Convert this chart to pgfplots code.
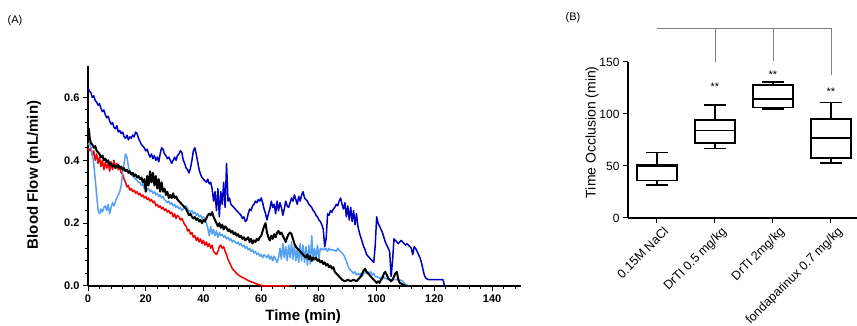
\documentclass[border=0pt]{standalone}
\usepackage{fontspec}
\setmainfont{Liberation Sans}
\usepackage{pgfplots}
\pgfplotsset{compat=1.18}
\usepgfplotslibrary{statistics}
\definecolor{dblue}{RGB}{0,0,190}
\definecolor{lblue}{RGB}{85,160,240}
\definecolor{pred}{RGB}{245,0,0}
\begin{document}
\begin{tikzpicture}
\useasboundingbox (0pt,0pt) rectangle (857pt,326pt);
\node[font=\fontsize{11}{13}\selectfont] at (15pt,305.5pt) {(A)};
\node[font=\fontsize{11}{13}\selectfont] at (573pt,308pt) {(B)};
\begin{axis}[
  at={(88pt,40pt)}, anchor=south west, scale only axis,
  width=433pt, height=220pt,
  xmin=0, xmax=150, ymin=0, ymax=0.7,
  axis lines=left, axis line style={-, line width=1.3pt},
  xtick distance=20, ytick={0,0.2,0.4,0.6},
  minor x tick num=4, minor y tick num=4,
  tick align=outside, major tick length=5pt, minor tick length=3pt,
  every tick/.style={black, line width=1pt},
  tick label style={font=\fontsize{11}{13}\selectfont\bfseries},
  /pgf/number format/assume math mode=true,
  yticklabel style={/pgf/number format/.cd, fixed, fixed zerofill, precision=1},
  xlabel={Time (min)}, ylabel={Blood Flow (mL/min)},
  every axis x label/.style={at={(axis description cs:0.497,-0.14)}, anchor=center, font=\fontsize{15}{17}\selectfont\bfseries},
  every axis y label/.style={at={(axis description cs:-0.125,0.505)}, rotate=90, anchor=center, font=\fontsize{15}{17}\selectfont\bfseries},
  clip=false,
  line join=round,
]
\addplot[pred, line width=1.5pt] coordinates {
(0,0.44)(0.5,0.43)(1,0.44)(1.5,0.415)(2,0.43)(2.5,0.40)(3,0.42)(3.5,0.39)(4,0.41)(4.5,0.38)(5,0.40)(5.5,0.37)(6,0.395)(6.5,0.375)(7,0.39)(7.5,0.365)(8,0.395)(8.5,0.37)(9,0.40)(9.5,0.375)(10,0.39)(10.5,0.37)(11,0.38)(11.5,0.36)(12,0.355)(12.5,0.34)(13,0.33)(13.5,0.315)(14,0.32)(14.5,0.305)(15,0.31)(15.5,0.30)(16,0.305)(16.5,0.295)(17,0.30)(17.5,0.29)(18,0.295)(18.5,0.285)(19,0.29)(19.5,0.28)(20,0.285)(20.5,0.275)(21,0.28)(21.5,0.27)(22,0.275)(22.5,0.265)(23,0.27)(23.5,0.255)(24,0.26)(24.5,0.25)(25,0.255)(25.5,0.245)(26,0.25)(26.5,0.24)(27,0.245)(27.5,0.235)(28,0.24)(28.5,0.23)(29,0.235)(29.5,0.22)(30,0.23)(30.5,0.215)(31,0.225)(31.5,0.22)(32,0.21)(32.5,0.215)(33,0.205)(33.5,0.195)(34,0.19)(34.5,0.175)(35,0.18)(35.5,0.165)(36,0.17)(36.5,0.155)(37,0.16)(37.5,0.145)(38,0.155)(38.5,0.14)(39,0.15)(39.5,0.135)(40,0.145)(40.5,0.13)(41,0.14)(41.5,0.125)(42,0.135)(42.5,0.12)(43,0.13)(43.5,0.11)(44,0.105)(44.5,0.10)(45,0.11)(45.5,0.125)(46,0.13)(46.5,0.12)(47,0.125)(47.5,0.11)(48,0.10)(48.5,0.085)(49,0.075)(49.5,0.065)(50,0.055)(51,0.045)(52,0.035)(53,0.03)(54,0.025)(55,0.02)(56,0.015)(57,0.012)(58,0.008)(59,0.005)(60,0.002)(61,0)(70,0)
};
\addplot[lblue, line width=1.5pt] coordinates {
(0,0.45)(0.5,0.455)(1,0.44)(1.5,0.42)(2,0.39)(2.5,0.34)(3,0.29)(3.5,0.24)(4,0.23)(4.5,0.245)(5,0.235)(5.5,0.25)(6,0.255)(6.5,0.24)(7,0.26)(7.5,0.23)(8,0.25)(8.5,0.265)(9,0.255)(9.5,0.27)(10,0.28)(10.5,0.29)(11,0.30)(11.5,0.32)(12,0.36)(12.5,0.39)(13,0.42)(13.5,0.41)(14,0.38)(14.5,0.36)(15,0.355)(15.5,0.35)(16,0.345)(16.5,0.34)(17,0.335)(17.5,0.33)(18,0.33)(18.5,0.32)(19,0.325)(19.5,0.31)(20,0.32)(20.5,0.305)(21,0.31)(21.5,0.30)(22,0.305)(22.5,0.295)(23,0.30)(23.5,0.29)(24,0.295)(24.5,0.285)(25,0.29)(25.5,0.28)(26,0.285)(26.5,0.275)(27,0.27)(27.5,0.265)(28,0.27)(28.5,0.26)(29,0.265)(29.5,0.255)(30,0.26)(30.5,0.25)(31,0.255)(31.5,0.245)(32,0.25)(32.5,0.24)(33,0.245)(33.5,0.25)(34,0.255)(34.5,0.245)(35,0.24)(35.5,0.235)(36,0.24)(36.5,0.23)(37,0.235)(37.5,0.225)(38,0.23)(38.5,0.22)(39,0.225)(39.5,0.215)(40,0.22)(40.5,0.21)(41,0.20)(41.5,0.185)(42,0.16)(42.5,0.19)(43,0.165)(43.5,0.18)(44,0.16)(44.5,0.175)(45,0.155)(45.5,0.17)(46,0.16)(46.5,0.165)(47,0.155)(47.5,0.16)(48,0.15)(48.5,0.155)(49,0.145)(49.5,0.15)(50,0.14)(50.5,0.145)(51,0.14)(51.5,0.135)(52,0.14)(52.5,0.13)(53,0.135)(53.5,0.125)(54,0.13)(54.5,0.12)(55,0.125)(55.5,0.115)(56,0.12)(56.5,0.11)(57,0.115)(57.5,0.105)(58,0.11)(58.5,0.10)(59,0.105)(59.5,0.095)(60,0.10)(60.5,0.09)(61,0.10)(61.5,0.095)(62,0.09)(62.5,0.10)(63,0.085)(63.5,0.095)(64,0.08)(64.5,0.095)(65,0.085)(65.5,0.075)(66,0.09)(66.5,0.12)(67,0.085)(67.5,0.135)(68,0.09)(68.5,0.125)(69,0.08)(69.5,0.13)(70,0.09)(70.5,0.14)(71,0.085)(71.5,0.13)(72,0.08)(72.5,0.12)(73,0.075)(73.5,0.135)(74,0.08)(74.5,0.13)(75,0.075)(75.5,0.125)(76,0.065)(76.5,0.13)(77,0.07)(77.5,0.16)(78,0.08)(78.5,0.12)(79,0.085)(79.5,0.13)(80,0.09)(80.5,0.12)(81,0.115)(81.5,0.12)(82,0.115)(82.5,0.12)(83,0.11)(83.5,0.12)(84,0.115)(85,0.115)(86,0.11)(86.5,0.12)(87,0.115)(87.5,0.11)(88,0.105)(88.5,0.10)(89,0.09)(89.5,0.08)(90,0.065)(90.5,0.055)(91,0.05)(91.5,0.045)(92,0.04)(92.5,0.045)(93,0.035)(93.5,0.04)(94,0.035)(94.5,0.04)(95,0.03)(95.5,0.04)(96,0.045)(96.5,0.04)(97,0.045)(97.5,0.04)(98,0.045)(98.5,0.035)(99,0.04)(99.5,0.03)(100,0.03)(101,0.025)(102,0.03)(103,0.025)(104,0.02)(105,0.02)(106,0.02)(107,0.02)(108,0.02)(109,0.015)(110,0.005)(111,0)
};
\addplot[black, line width=2pt] coordinates {
(0,0.48)(0.3,0.50)(0.6,0.47)(1,0.455)(1.5,0.45)(2,0.44)(2.5,0.445)(3,0.43)(3.5,0.425)(4,0.42)(4.5,0.41)(5,0.415)(5.5,0.40)(6,0.405)(6.5,0.395)(7,0.40)(7.5,0.385)(8,0.39)(8.5,0.38)(9,0.385)(9.5,0.375)(10,0.38)(10.5,0.385)(11,0.375)(11.5,0.38)(12,0.37)(12.5,0.375)(13,0.365)(13.5,0.37)(14,0.36)(14.5,0.365)(15,0.355)(15.5,0.36)(16,0.35)(16.5,0.355)(17,0.345)(17.5,0.35)(18,0.34)(18.5,0.345)(19,0.33)(19.5,0.34)(20,0.30)(20.5,0.35)(21,0.32)(21.5,0.365)(22,0.33)(22.5,0.36)(23,0.32)(23.5,0.35)(24,0.31)(24.5,0.34)(25,0.30)(25.5,0.33)(26,0.30)(26.5,0.31)(27,0.29)(27.5,0.30)(28,0.28)(28.5,0.29)(29,0.28)(29.5,0.295)(30,0.28)(30.5,0.285)(31,0.275)(31.5,0.27)(32,0.265)(32.5,0.26)(33,0.255)(33.5,0.25)(34,0.245)(34.5,0.235)(35,0.225)(35.5,0.23)(36,0.22)(36.5,0.215)(37,0.22)(37.5,0.21)(38,0.215)(38.5,0.205)(39,0.21)(39.5,0.20)(40,0.21)(40.5,0.205)(41,0.215)(41.5,0.225)(42,0.23)(42.5,0.225)(43,0.235)(43.5,0.22)(44,0.21)(44.5,0.20)(45,0.19)(45.5,0.20)(46,0.185)(46.5,0.195)(47,0.18)(47.5,0.19)(48,0.185)(48.5,0.175)(49,0.18)(49.5,0.17)(50,0.175)(50.5,0.165)(51,0.17)(51.5,0.16)(52,0.165)(52.5,0.155)(53,0.16)(53.5,0.15)(54,0.155)(54.5,0.145)(55,0.15)(55.5,0.155)(56,0.14)(56.5,0.15)(57,0.135)(57.5,0.145)(58,0.14)(58.5,0.15)(59,0.145)(59.5,0.155)(60,0.16)(60.5,0.175)(61,0.19)(61.5,0.20)(62,0.17)(62.5,0.155)(63,0.145)(63.5,0.16)(64,0.15)(64.5,0.165)(65,0.155)(65.5,0.17)(66,0.175)(66.5,0.165)(67,0.17)(67.5,0.16)(68,0.15)(68.5,0.14)(69,0.155)(69.5,0.165)(70,0.17)(70.5,0.165)(71,0.15)(71.5,0.135)(72,0.125)(72.5,0.12)(73,0.115)(73.5,0.11)(74,0.105)(74.5,0.10)(75,0.095)(75.5,0.09)(76,0.10)(76.5,0.085)(77,0.095)(77.5,0.08)(78,0.09)(78.5,0.085)(79,0.09)(79.5,0.08)(80,0.085)(80.5,0.075)(81,0.08)(81.5,0.07)(82,0.075)(82.5,0.065)(83,0.07)(83.5,0.06)(84,0.065)(84.5,0.055)(85,0.06)(85.5,0.045)(86,0.04)(86.5,0.035)(87,0.03)(87.5,0.025)(88,0.02)(89,0.015)(90,0.02)(91,0.015)(92,0.02)(93,0.015)(94,0.025)(94.5,0.03)(95,0.04)(95.5,0.05)(96,0.055)(96.5,0.045)(97,0.04)(97.5,0.035)(98,0.03)(98.5,0.025)(99,0.02)(99.5,0.015)(100,0.01)(100.5,0.015)(101,0.01)(101.5,0.02)(102,0.025)(102.5,0.04)(103,0.045)(103.5,0.035)(104,0.025)(104.5,0.02)(105,0.015)(105.5,0.02)(106,0.03)(106.5,0.04)(107,0.045)(107.5,0.02)(108,0.01)(109,0.005)(110,0)(111,0)
};
\addplot[dblue, line width=1.5pt] coordinates {
(0,0.63)(0.5,0.62)(1,0.615)(1.5,0.60)(2,0.605)(2.5,0.59)(3,0.585)(3.5,0.575)(4,0.58)(4.5,0.565)(5,0.555)(5.5,0.56)(6,0.545)(6.5,0.535)(7,0.54)(7.5,0.525)(8,0.515)(8.5,0.52)(9,0.505)(9.5,0.50)(10,0.51)(10.5,0.49)(11,0.495)(11.5,0.485)(12,0.49)(12.5,0.475)(13,0.47)(13.5,0.48)(14,0.465)(14.5,0.475)(15,0.47)(15.5,0.48)(16,0.475)(16.5,0.49)(17,0.485)(17.5,0.47)(18,0.46)(18.5,0.45)(19,0.445)(19.5,0.44)(20,0.43)(20.5,0.435)(21,0.42)(21.5,0.41)(22,0.42)(22.5,0.405)(23,0.415)(23.5,0.40)(24,0.41)(24.5,0.395)(25,0.42)(25.5,0.44)(26,0.435)(26.5,0.42)(27,0.415)(27.5,0.405)(28,0.41)(28.5,0.40)(29,0.39)(29.5,0.40)(30,0.41)(30.5,0.40)(31,0.415)(31.5,0.42)(32,0.43)(32.5,0.425)(33,0.40)(33.5,0.39)(34,0.375)(34.5,0.37)(35,0.36)(35.5,0.375)(36,0.40)(36.5,0.43)(37,0.44)(37.5,0.42)(38,0.395)(38.5,0.37)(39,0.355)(39.5,0.345)(40,0.34)(40.5,0.335)(41,0.33)(41.5,0.34)(42,0.325)(42.5,0.33)(43,0.31)(43.5,0.27)(44,0.30)(44.5,0.24)(45,0.31)(45.5,0.22)(46,0.30)(46.5,0.26)(47,0.33)(47.5,0.25)(48,0.39)(48.5,0.27)(49,0.28)(49.5,0.26)(50,0.255)(50.5,0.25)(51,0.245)(51.5,0.24)(52,0.235)(52.5,0.23)(53,0.225)(53.5,0.215)(54,0.22)(54.5,0.205)(55,0.21)(55.5,0.23)(56,0.245)(56.5,0.24)(57,0.255)(57.5,0.26)(58,0.27)(58.5,0.265)(59,0.275)(59.5,0.27)(60,0.28)(60.5,0.265)(61,0.245)(61.5,0.23)(62,0.21)(62.5,0.23)(63,0.245)(63.5,0.27)(64,0.25)(64.5,0.26)(65,0.23)(65.5,0.27)(66,0.24)(66.5,0.265)(67,0.25)(67.5,0.225)(68,0.245)(68.5,0.27)(69,0.255)(69.5,0.25)(70,0.265)(70.5,0.28)(71,0.27)(71.5,0.29)(72,0.275)(72.5,0.26)(73,0.285)(73.5,0.27)(74,0.29)(74.5,0.30)(75,0.28)(75.5,0.275)(76,0.27)(76.5,0.26)(77,0.255)(77.5,0.25)(78,0.24)(78.5,0.235)(79,0.225)(79.5,0.22)(80,0.21)(80.5,0.205)(81,0.195)(81.5,0.18)(82,0.125)(82.5,0.15)(83,0.23)(83.5,0.225)(84,0.24)(84.5,0.235)(85,0.245)(85.5,0.25)(86,0.26)(86.5,0.255)(87,0.27)(87.5,0.28)(88,0.26)(88.5,0.245)(89,0.265)(89.5,0.22)(90,0.255)(90.5,0.21)(91,0.25)(91.5,0.205)(92,0.24)(92.5,0.195)(93,0.23)(93.5,0.19)(94,0.17)(94.5,0.155)(95,0.14)(95.5,0.125)(96,0.115)(96.5,0.10)(97,0.095)(97.5,0.09)(98,0.085)(98.5,0.08)(99,0.075)(99.5,0.13)(100,0.22)(100.5,0.20)(101,0.19)(101.5,0.18)(102,0.17)(102.5,0.155)(103,0.14)(103.5,0.13)(104,0.12)(104.5,0.11)(105,0.03)(105.5,0.08)(106,0.15)(106.5,0.145)(107,0.14)(107.5,0.135)(108,0.14)(108.5,0.145)(109,0.14)(109.5,0.135)(110,0.13)(110.5,0.135)(111,0.13)(111.5,0.125)(112,0.12)(112.5,0.10)(113,0.125)(113.5,0.12)(114,0.11)(114.5,0.10)(115,0.09)(115.5,0.075)(116,0.055)(116.5,0.035)(117,0.025)(118,0.02)(119,0.02)(120,0.02)(121,0.02)(122,0.02)(123,0.02)(123.5,0)
};
\end{axis}
\begin{axis}[
  at={(628pt,108pt)}, anchor=south west, scale only axis,
  width=229pt, height=156pt,
  xmin=-0.5, xmax=3.45, ymin=0, ymax=150,
  axis lines=left, axis line style={-, line width=1.3pt},
  xtick={0,1,2,3}, ytick={0,50,100,150},
  xticklabels={0.15M NaCl, DrTI 0.5 mg/kg, DrTI 2mg/kg, fondaparinux 0.7 mg/kg},
  tick align=outside, major tick length=5pt,
  every tick/.style={black, line width=1pt},
  tick label style={font=\fontsize{12}{14}\selectfont},
  xticklabel style={rotate=45, anchor=north east, font=\fontsize{12.5}{14}\selectfont, inner sep=1pt, yshift=-5pt, xshift=3pt},
  /pgf/number format/assume math mode=true,
  ylabel={Time Occlusion (min)},
  every axis y label/.style={at={(axis description cs:-0.157,0.55)}, rotate=90, anchor=center, font=\fontsize{14}{16}\selectfont},
  clip=false,
  boxplot/draw direction=y,
]
\addplot[black, line width=1.6pt, boxplot prepared={median=49.5, upper quartile=51, lower quartile=36, upper whisker=62.8, lower whisker=31.7, draw position=0, box extend=0.69, whisker extend=0.37}] coordinates {};
\addplot[black, line width=1.6pt, boxplot prepared={median=84, upper quartile=94, lower quartile=72, upper whisker=108.6, lower whisker=67, draw position=1, box extend=0.69, whisker extend=0.37}] coordinates {};
\addplot[black, line width=1.6pt, boxplot prepared={median=114.4, upper quartile=127.6, lower quartile=106.4, upper whisker=130.8, lower whisker=104.8, draw position=2, box extend=0.69, whisker extend=0.37}] coordinates {};
\addplot[black, line width=1.6pt, boxplot prepared={median=77, upper quartile=95, lower quartile=57.5, upper whisker=110.9, lower whisker=53, draw position=3, box extend=0.69, whisker extend=0.37}] coordinates {};
\draw[gray, line width=0.8pt] (axis cs:0,182.7) -- (axis cs:3,182.7);
\draw[gray, line width=0.8pt] (axis cs:1,182.7) -- (axis cs:1,150.3);
\draw[gray, line width=0.8pt] (axis cs:2,182.7) -- (axis cs:2,151);
\draw[gray, line width=0.8pt] (axis cs:3,182.7) -- (axis cs:3,137.5);
\node[font=\fontsize{11}{12}\selectfont] at (axis cs:1,126) {**};
\node[font=\fontsize{11}{12}\selectfont] at (axis cs:2,137.7) {**};
\node[font=\fontsize{11}{12}\selectfont] at (axis cs:3,121.7) {**};
\end{axis}
\end{tikzpicture}
\end{document}
